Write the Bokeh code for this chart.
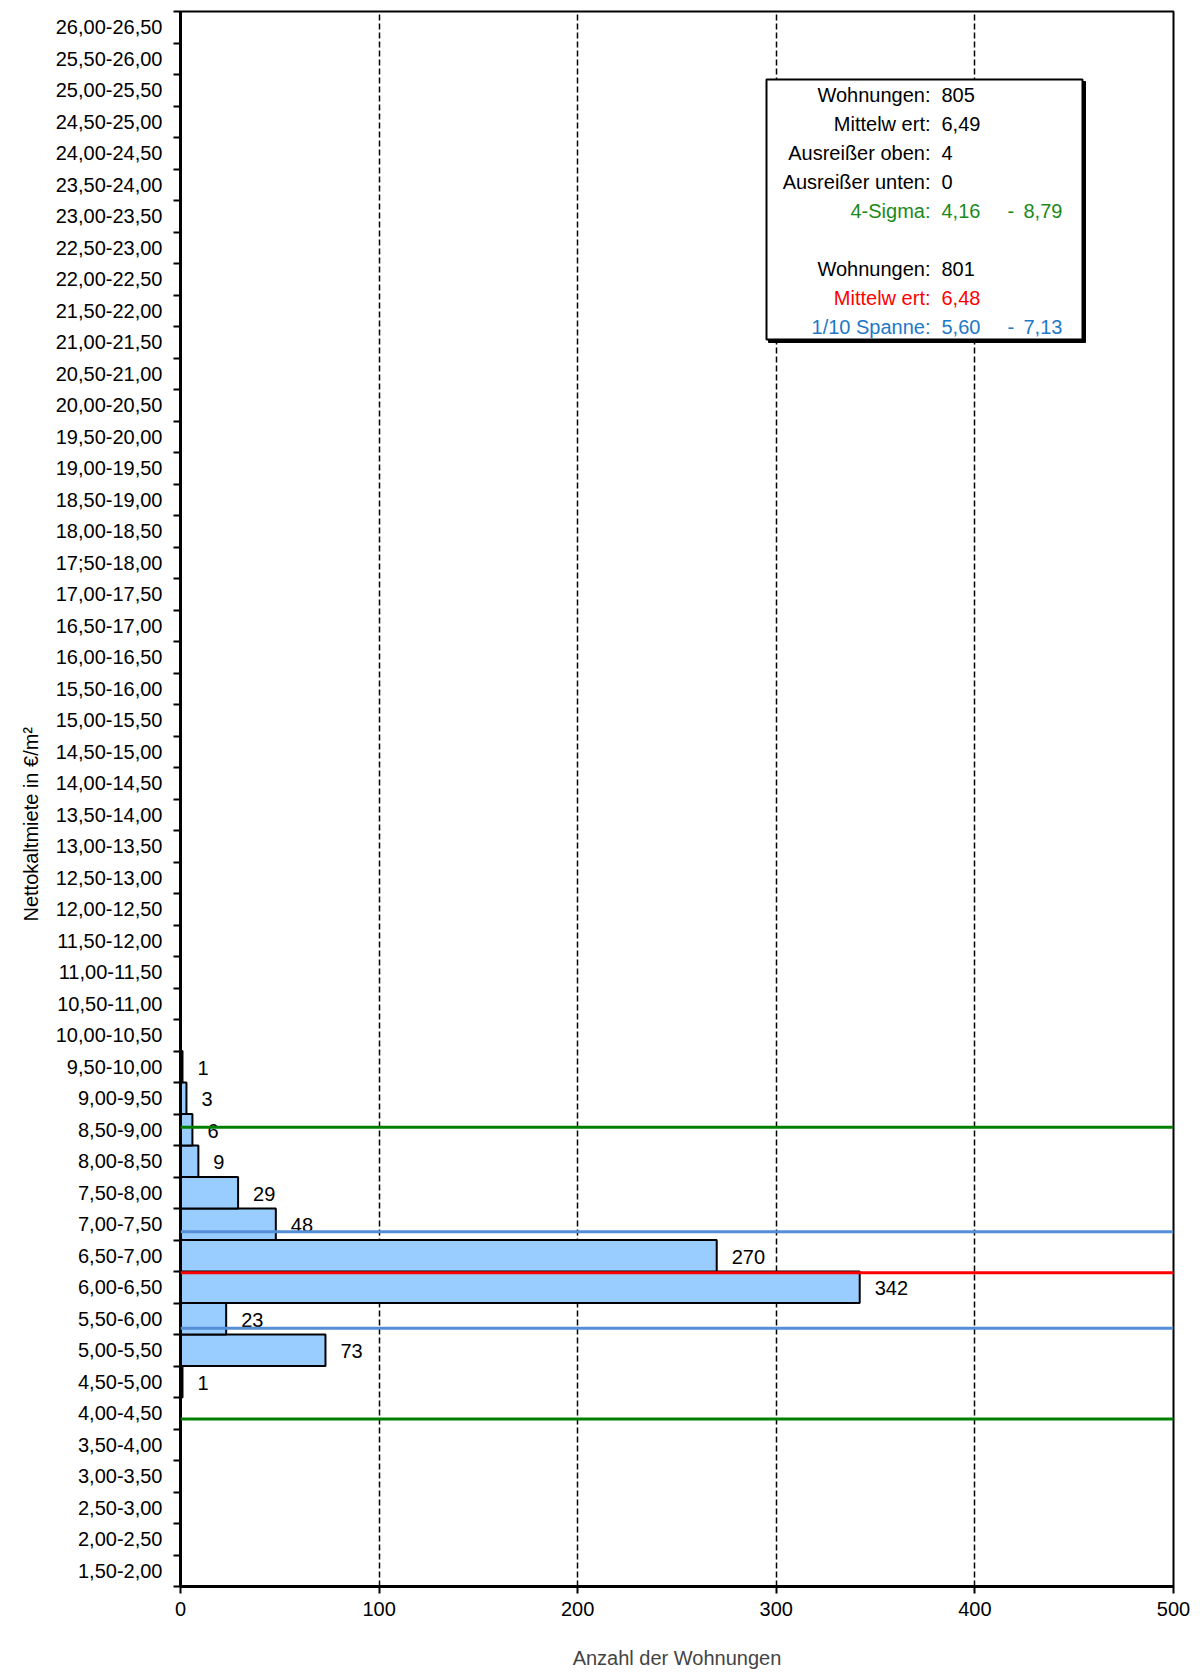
from bokeh.plotting import figure
from bokeh.models import (Range1d, FixedTicker, Span, BoxAnnotation, Label,
                          ColumnDataSource, LabelSet, Title)
from bokeh.core.properties import value
from bokeh.embed import file_html
from bokeh.resources import INLINE

# Rent classes (EUR per m², net cold rent), bottom to top
categories = [
    "1,50-2,00", "2,00-2,50", "2,50-3,00", "3,00-3,50", "3,50-4,00",
    "4,00-4,50", "4,50-5,00", "5,00-5,50", "5,50-6,00", "6,00-6,50",
    "6,50-7,00", "7,00-7,50", "7,50-8,00", "8,00-8,50", "8,50-9,00",
    "9,00-9,50", "9,50-10,00", "10,00-10,50", "10,50-11,00", "11,00-11,50",
    "11,50-12,00", "12,00-12,50", "12,50-13,00", "13,00-13,50", "13,50-14,00",
    "14,00-14,50", "14,50-15,00", "15,00-15,50", "15,50-16,00", "16,00-16,50",
    "16,50-17,00", "17,00-17,50", "17;50-18,00", "18,00-18,50", "18,50-19,00",
    "19,00-19,50", "19,50-20,00", "20,00-20,50", "20,50-21,00", "21,00-21,50",
    "21,50-22,00", "22,00-22,50", "22,50-23,00", "23,00-23,50", "23,50-24,00",
    "24,00-24,50", "24,50-25,00", "25,00-25,50", "25,50-26,00", "26,00-26,50",
]

# Number of flats per class
counts = [
    0, 0, 0, 0, 0,
    0, 1, 73, 23, 342,
    270, 48, 29, 9, 6,
    3, 1, 0, 0, 0,
    0, 0, 0, 0, 0,
    0, 0, 0, 0, 0,
    0, 0, 0, 0, 0,
    0, 0, 0, 0, 0,
    0, 0, 0, 0, 0,
    0, 0, 0, 0, 0,
]

# Summary statistics
sigma_low, sigma_high = 4.16, 8.79
mean_trimmed = 6.48
span_low, span_high = 5.60, 7.13

info_rows = [
    ("Wohnungen:", "805", None, "black"),
    ("Mittelw ert:", "6,49", None, "black"),
    ("Ausreißer oben:", "4", None, "black"),
    ("Ausreißer unten:", "0", None, "black"),
    ("4-Sigma:", "4,16", "8,79", "#1A8A1A"),
    None,
    ("Wohnungen:", "801", None, "black"),
    ("Mittelw ert:", "6,48", None, "#FF0000"),
    ("1/10 Spanne:", "5,60", "7,13", "#1F78C8"),
]

FONT = "Liberation Sans"
BIN = 0.5


def lower_edge(label):
    return float(label.split("-")[0].replace(",", ".").replace(";", "."))


lowers = [lower_edge(c) for c in categories]
centers = [lo + BIN / 2 for lo in lowers]
edges = lowers + [lowers[-1] + BIN]

Y0, Y1 = edges[0], edges[-1]
X0, X1 = 0, 500

# frame geometry in pixels
W, H = 1200, 1675
FL, FR, FT, FB = 180, 1173, 11, 1586

p = figure(width=W, height=H, output_backend="svg", toolbar_location=None,
           x_range=Range1d(X0, X1), y_range=Range1d(Y0, Y1),
           min_border_left=FL, min_border_right=W - FR,
           min_border_top=FT, min_border_bottom=H - FB,
           background_fill_color="white", border_fill_color="white")

p.outline_line_color = "black"
p.outline_line_width = 2

# x axis
p.xaxis.ticker = FixedTicker(ticks=[0, 100, 200, 300, 400, 500])
p.xaxis.axis_line_width = 3
p.xaxis.axis_line_color = "black"
p.xaxis.major_tick_out = 7
p.xaxis.major_tick_in = 0
p.xaxis.major_tick_line_width = 2
p.xaxis.minor_tick_line_color = None
p.xaxis.major_label_text_font = FONT
p.xaxis.major_label_text_font_size = "20px"
p.xaxis.major_label_text_color = "black"
p.xaxis.major_label_standoff = 8
p.xaxis.axis_label = "Anzahl der Wohnungen"
p.xaxis.axis_label_text_font = FONT
p.xaxis.axis_label_text_font_size = "20px"
p.xaxis.axis_label_text_font_style = "normal"
p.xaxis.axis_label_standoff = 28

# y axis: labels at class centres, tick marks at class edges
p.yaxis.ticker = FixedTicker(ticks=centers, minor_ticks=edges)
p.yaxis.major_label_overrides = {c: lab for c, lab in zip(centers, categories)}
p.yaxis.axis_line_width = 3
p.yaxis.axis_line_color = "black"
p.yaxis.major_tick_line_color = None
p.yaxis.major_tick_out = 0
p.yaxis.major_tick_in = 0
p.yaxis.minor_tick_out = 7
p.yaxis.minor_tick_in = 0
p.yaxis.minor_tick_line_width = 2
p.yaxis.minor_tick_line_color = "black"
p.yaxis.major_label_text_font = FONT
p.yaxis.major_label_text_font_size = "20px"
p.yaxis.major_label_text_color = "black"
p.yaxis.major_label_standoff = 11

# y axis title, starting a little below the frame centre
p.add_layout(Title(text="Nettokaltmiete in €/m²", align="left", offset=665,
                   standoff=22, text_font=FONT, text_font_size="20px",
                   text_font_style="normal", text_color="black"), "left")

# grid
p.ygrid.visible = False
p.xgrid.grid_line_color = "black"
p.xgrid.grid_line_width = 1.5
p.xgrid.grid_line_dash = "6 3"

# bars
bars = ColumnDataSource(dict(
    y=[c for c, n in zip(centers, counts) if n > 0],
    n=[n for n in counts if n > 0],
    txt=[str(n) for n in counts if n > 0],
))
p.hbar(y="y", height=BIN, left=0, right="n", source=bars,
       fill_color="#99CCFF", line_color="black", line_width=2)
p.add_layout(LabelSet(x="n", y="y", text="txt", source=bars, x_offset=15,
                      y_offset=-1, text_baseline="middle",
                      text_font=value(FONT), text_font_size=value("20px"),
                      text_color="black"))

# reference lines
for loc, col in [(sigma_high, "#008000"), (sigma_low, "#008000"),
                 (span_high, "#558ED5"), (span_low, "#558ED5"),
                 (mean_trimmed, "#FF0000")]:
    p.add_layout(Span(location=loc, dimension="width", line_color=col,
                      line_width=3))


# annotation placement in pixel terms, converted to data space
def px_x(px):
    return X0 + (px - FL) / (FR - FL) * (X1 - X0)


def px_y(py):
    return Y1 - (py - FT) / (FB - FT) * (Y1 - Y0)


# info box with a slight shadow
p.add_layout(BoxAnnotation(left=px_x(768), right=px_x(1085),
                           top=px_y(81), bottom=px_y(342),
                           fill_color="black", fill_alpha=1,
                           line_color="black", line_alpha=1, line_width=1))
p.add_layout(BoxAnnotation(left=px_x(766), right=px_x(1082),
                           top=px_y(79), bottom=px_y(339),
                           fill_color="white", fill_alpha=1,
                           line_color="black", line_alpha=1, line_width=2))

row_y = 94
for row in info_rows:
    if row is not None:
        name, v1, v2, col = row
        yy = px_y(row_y)
        kw = dict(y=yy, text_font=FONT, text_font_size="20px",
                  text_color=col, text_baseline="middle")
        p.add_layout(Label(x=px_x(930), text=name, text_align="right", **kw))
        p.add_layout(Label(x=px_x(941), text=v1, text_align="left", **kw))
        if v2 is not None:
            p.add_layout(Label(x=px_x(1007), text="-", text_align="left", **kw))
            p.add_layout(Label(x=px_x(1023), text=v2, text_align="left", **kw))
    row_y += 29

open("out.html", "w").write(file_html(p, INLINE))
